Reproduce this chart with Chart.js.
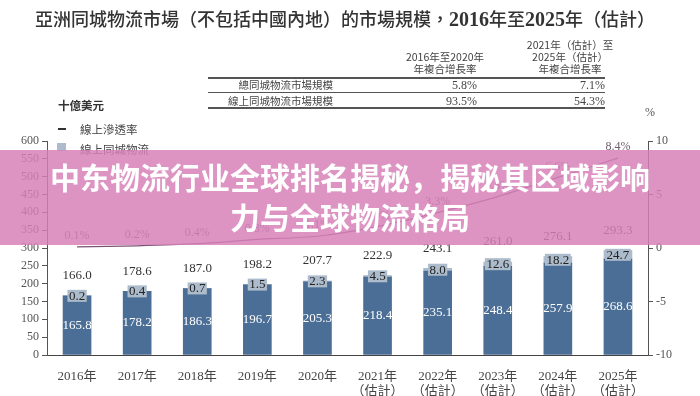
<!DOCTYPE html>
<html>
<head>
<meta charset="utf-8">
<script src="https://cdn.jsdelivr.net/npm/chart.js@4.4.0/dist/chart.umd.min.js"></script>
<style>
  body { margin: 0; background: #fff; }
  #wrap { position: relative; width: 700px; height: 396px; overflow: hidden; font-family: 'Noto Sans CJK TC', sans-serif; color: #333; }
  #wrap canvas { position: absolute; left: 0; top: 0; }
  .t { position: absolute; white-space: nowrap; }
  .num { font-family: 'Liberation Serif', 'Noto Sans CJK TC', serif; }
  .rule { position: absolute; left: 208px; width: 397px; background: #555; }
  #banner { position: absolute; left: 0; top: 150px; width: 700px; height: 95px; background: rgba(214, 128, 184, 0.84);
            color: #fff; font: 700 30px 'Noto Sans CJK SC', sans-serif; text-align: center; line-height: 40px; padding-top: 6px; box-sizing: border-box; }
</style>
</head>
<body>
<div id="wrap">
  <canvas id="chart" width="700" height="396"></canvas>

  <div class="t" style="left:35px; top:5px; font-size:18px; font-weight:500; color:#333;">亞洲同城物流市場（不包括中國內地）的市場規模，<b class="num" style="font-size:20px;">2016</b>年至<b class="num" style="font-size:20px;">2025</b>年（估計）</div>

  <div class="t" style="left:395px; top:51px; width:100px; text-align:center; font-size:10.5px; line-height:12px; color:#444;">2016年至2020年<br>年複合增長率</div>
  <div class="t" style="left:515px; top:39px; width:110px; text-align:center; font-size:10.5px; line-height:12px; color:#444;">2021年（估計）至<br>2025年（估計）<br>年複合增長率</div>
  <div class="rule" style="top:77px; height:1.5px;"></div>
  <div class="rule" style="top:92px; height:1px;"></div>
  <div class="rule" style="top:107px; height:1.5px;"></div>
  <div class="t" style="right:367px; top:78px; font-size:10.5px; line-height:14px; color:#444;">總同城物流市場規模</div>
  <div class="t" style="right:367px; top:94px; font-size:10.5px; line-height:14px; color:#444;">線上同城物流市場規模</div>
  <div class="t num" id="cagr1a" style="right:223px; top:78px; font-size:12px; line-height:14px; color:#444;"></div>
  <div class="t num" id="cagr2a" style="right:95px; top:78px; font-size:12px; line-height:14px; color:#444;"></div>
  <div class="t num" id="cagr1b" style="right:223px; top:94px; font-size:12px; line-height:14px; color:#444;"></div>
  <div class="t num" id="cagr2b" style="right:95px; top:94px; font-size:12px; line-height:14px; color:#444;"></div>

  <div class="t" style="left:58px; top:97px; font-size:11.5px; font-weight:700; line-height:16px;">十億美元</div>
  <div class="t" style="left:58px; top:128px; width:8px; height:1.5px; background:#333;"></div>
  <div class="t" style="left:80px; top:121px; font-size:11.5px; line-height:16px; color:#444;">線上滲透率</div>
  <div class="t" style="left:57px; top:143px; width:9px; height:8px; background:#adbccc;"></div>
  <div class="t" style="left:80px; top:141px; font-size:11.5px; line-height:16px; color:#444;">線上同城物流</div>
  <div class="t num" style="left:645px; top:104px; font-size:12px; line-height:16px; color:#555;">%</div>

  <div id="banner">中东物流行业全球排名揭秘，揭秘其区域影响<br>力与全球物流格局</div>
</div>

<script>
// categories
const years = [['2016年'], ['2017年'], ['2018年'], ['2019年'], ['2020年'],
  ['2021年', '（估計）'], ['2022年', '（估計）'], ['2023年', '（估計）'], ['2024年', '（估計）'], ['2025年', '（估計）']];

// 十億美元
const offlineMarket = [165.8, 178.2, 186.3, 196.7, 205.3, 218.4, 235.1, 248.4, 257.9, 268.6];
const onlineMarket = [0.2, 0.4, 0.7, 1.5, 2.3, 4.5, 8.0, 12.6, 18.2, 24.7];
const totalMarket = [166.0, 178.6, 187.0, 198.2, 207.7, 222.9, 243.1, 261.0, 276.1, 293.3];

// 線上滲透率 %
const penetration = [0.1, 0.2, 0.4, 0.8, 1.1, 2.0, 3.3, 4.8, 6.6, 8.4];

// 年複合增長率
const cagrTotal = ['5.8%', '7.1%'];
const cagrOnline = ['93.5%', '54.3%'];

document.getElementById('cagr1a').textContent = cagrTotal[0];
document.getElementById('cagr2a').textContent = cagrTotal[1];
document.getElementById('cagr1b').textContent = cagrOnline[0];
document.getElementById('cagr2b').textContent = cagrOnline[1];

const serif = "'Liberation Serif', 'Noto Sans CJK TC', serif";

const barLabels = {
    id: 'barLabels',
    afterDatasetsDraw(chart) {
        const c = chart.ctx;
        const dark = chart.getDatasetMeta(0).data;
        const grey = chart.getDatasetMeta(1).data;
        const line = chart.getDatasetMeta(2).data;
        c.save();
        c.textAlign = 'center';
        c.textBaseline = 'middle';
        c.font = '13px ' + serif;
        dark.forEach(function (bar, i) {
            // value inside dark bar
            c.fillStyle = '#fff';
            c.fillText(offlineMarket[i].toFixed(1), bar.x, (bar.y + bar.base) / 2);

            // online box on top of the stack
            const g = grey[i];
            const mid = (g.y + g.base) / 2;
            const txt = onlineMarket[i].toFixed(1);
            const w = Math.min(c.measureText(txt).width + 3, g.width);
            c.fillStyle = '#adbccc';
            c.fillRect(bar.x - w / 2, mid - 6, w, 12);
            c.fillStyle = '#222';
            c.fillText(txt, bar.x, mid + 0.5);

            // total above
            c.fillStyle = '#333';
            c.fillText(totalMarket[i].toFixed(1), bar.x, g.y - 20);
        });
        c.font = '12px ' + serif;
        c.fillStyle = '#6f5d6d';
        line.forEach(function (pt, i) {
            c.fillText(penetration[i].toFixed(1) + '%', pt.x, pt.y - 11);
        });
        c.restore();
    }
};

new Chart(document.getElementById('chart'), {
    data: {
        labels: years,
        datasets: [{
            type: 'bar',
            label: '線下同城物流',
            data: offlineMarket,
            backgroundColor: '#4b6e96',
            barThickness: 28,
            yAxisID: 'y',
            order: 2
        }, {
            type: 'bar',
            label: '線上同城物流',
            data: onlineMarket,
            backgroundColor: '#adbccc',
            barThickness: 28,
            yAxisID: 'y',
            order: 2
        }, {
            type: 'line',
            label: '線上滲透率',
            data: penetration,
            borderColor: '#7c5176',
            borderWidth: 1.2,
            pointRadius: 0,
            tension: 0.25,
            yAxisID: 'y1',
            order: 1
        }]
    },
    options: {
        responsive: false,
        animation: false,
        layout: { padding: { top: 141, left: 0, right: 0, bottom: 0 } },
        plugins: {
            legend: { display: false },
            tooltip: { enabled: false }
        },
        scales: {
            x: {
                stacked: true,
                grid: { display: false },
                border: { display: true, color: '#444', width: 1 },
                ticks: { color: '#444', padding: 6, font: { family: serif, size: 13, lineHeight: 1.15 }, maxRotation: 0 },
                afterFit: function (s) { s.height = 41; }
            },
            y: {
                stacked: true,
                position: 'left',
                min: 0,
                max: 600,
                grid: { drawOnChartArea: false, drawTicks: true, tickLength: 5, color: '#555' },
                border: { display: true, color: '#555', width: 1 },
                ticks: { stepSize: 50, color: '#555', padding: 3, font: { family: serif, size: 12 } },
                afterFit: function (s) { s.width = 47; }
            },
            y1: {
                position: 'right',
                min: -10,
                max: 10,
                grid: { drawOnChartArea: false, drawTicks: true, tickLength: 5, color: '#555' },
                border: { display: true, color: '#555', width: 1 },
                ticks: { stepSize: 5, color: '#555', padding: 3, font: { family: serif, size: 12 } },
                afterFit: function (s) { s.width = 52; }
            }
        }
    },
    plugins: [barLabels]
});
</script>
</body>
</html>
